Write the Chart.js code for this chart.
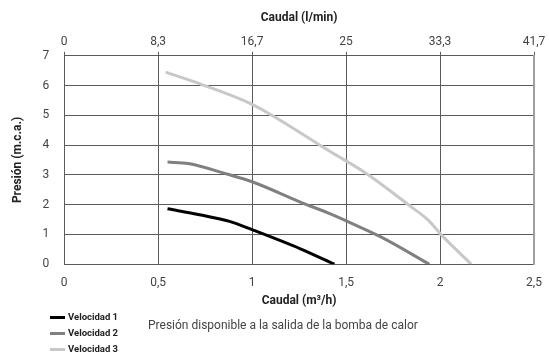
<!DOCTYPE html>
<html>
<head>
<meta charset="utf-8">
<script src="https://cdn.jsdelivr.net/npm/chart.js@4"></script>
<style>
  html, body { margin: 0; padding: 0; background: #fff; }
  #wrap { position: relative; width: 549px; height: 353px; font-family: Roboto, sans-serif; }
  #legend { position: absolute; left: 50px; top: 309px; }
  .leg-row { height: 16px; line-height: 16px; font-size: 9.5px; font-weight: bold; color: #222; white-space: nowrap; }
  .leg-line { display: inline-block; width: 15px; height: 3px; vertical-align: middle; margin-right: 3px; }
  #caption { position: absolute; left: 148px; top: 318px; font-size: 12px; color: #444; white-space: nowrap; }
</style>
</head>
<body>
<div id="wrap">
  <canvas id="curves" width="549" height="353"></canvas>
  <div id="legend"></div>
  <div id="caption">Presión disponible a la salida de la bomba de calor</div>
</div>
<script>
"use strict";

/* --- DATA --- */

const series_names = ['Velocidad 1', 'Velocidad 2', 'Velocidad 3'];
const series_colors = ['#000000', '#808080', '#c8c8c8'];

// caudal (m3/h) / presion (m.c.a.)
const vel1_q = [0.55, 0.72, 0.88, 1.0, 1.26, 1.438];
const vel1_p = [1.86, 1.66, 1.44, 1.16, 0.51, 0];

const vel2_q = [0.55, 0.66, 0.87, 1.0, 1.26, 1.42, 1.53, 1.69, 1.943];
const vel2_p = [3.43, 3.38, 3.02, 2.77, 2.08, 1.68, 1.37, 0.9, 0];

const vel3_q = [0.54, 0.73, 1.0, 1.14, 1.42, 1.6, 1.85, 1.93, 2.02, 2.166];
const vel3_p = [6.45, 6.04, 5.37, 4.87, 3.77, 3.08, 1.91, 1.52, 0.9, 0];

const x_ticks = [0, 0.5, 1, 1.5, 2, 2.5];
const x_tick_labels = ['0', '0,5', '1', '1,5', '2', '2,5'];
const lmin_ticks = [0, 8.333, 16.667, 25, 33.333, 41.667];
const lmin_tick_labels = ['0', '8,3', '16,7', '25', '33,3', '41,7'];
const y_ticks = [0, 1, 2, 3, 4, 5, 6, 7];

/* --- CHART --- */

function to_points(qs, ps) {
  return qs.map((q, i) => ({ x: q, y: ps[i] }));
}

// don't let the end labels push the plot area inwards
function no_side_pad(axis) {
  axis.paddingLeft = 0;
  axis.paddingRight = 0;
}

const all_q = [vel1_q, vel2_q, vel3_q];
const all_p = [vel1_p, vel2_p, vel3_p];

const grid_col = '#5a5a5a';
const tick_font = { family: 'Roboto', size: 12 };
const title_font = { family: 'Roboto', size: 12, weight: 'bold' };

const curves = document.getElementById('curves');

let curves_chart = new Chart(curves, {
  type: 'scatter',
  data: {
    datasets: series_names.map((name, i) => ({
      label: name,
      data: to_points(all_q[i], all_p[i]),
      showLine: true,
      borderColor: series_colors[i],
      backgroundColor: series_colors[i],
      borderWidth: 3,
      pointRadius: 0,
      tension: 0.3,
      cubicInterpolationMode: 'monotone',
      xAxisID: 'x'
    }))
  },
  options: {
    responsive: false,
    animation: false,
    layout: {
      padding: { left: 11, right: 15, top: 11, bottom: 45 }
    },
    plugins: {
      legend: { display: false },
      tooltip: { enabled: false }
    },
    scales: {
      x: {
        type: 'linear',
        position: 'bottom',
        min: 0,
        max: 2.5,
        afterBuildTicks: (axis) => { axis.ticks = x_ticks.map(v => ({ value: v })); },
        afterFit: no_side_pad,
        ticks: {
          color: '#444',
          font: tick_font,
          padding: 12,
          maxRotation: 0,
          callback: (v, i) => x_tick_labels[i]
        },
        grid: { color: grid_col, lineWidth: 1, drawTicks: false },
        border: { color: grid_col, width: 1 },
        title: {
          display: true,
          text: 'Caudal (m³/h)',
          color: '#222',
          font: title_font,
          padding: { top: -9, bottom: 0 }
        }
      },
      x2: {
        type: 'linear',
        position: 'top',
        min: 0,
        max: 41.667,
        afterBuildTicks: (axis) => { axis.ticks = lmin_ticks.map(v => ({ value: v })); },
        afterFit: no_side_pad,
        ticks: {
          color: '#444',
          font: tick_font,
          padding: 3,
          maxRotation: 0,
          callback: (v, i) => lmin_tick_labels[i]
        },
        grid: { drawOnChartArea: false, color: grid_col, tickLength: 4 },
        border: { color: grid_col, width: 1 },
        title: {
          display: true,
          text: 'Caudal (l/min)',
          color: '#222',
          font: title_font,
          padding: { top: 0, bottom: 6 }
        }
      },
      y: {
        type: 'linear',
        position: 'left',
        min: 0,
        max: 7,
        afterBuildTicks: (axis) => { axis.ticks = y_ticks.map(v => ({ value: v })); },
        ticks: {
          color: '#444',
          font: tick_font,
          padding: 15
        },
        grid: { color: grid_col, lineWidth: 1, drawTicks: false },
        border: { color: grid_col, width: 1 },
        title: {
          display: true,
          text: 'Presión (m.c.a.)',
          color: '#222',
          font: title_font,
          padding: { top: 0, bottom: 2 }
        }
      },
      y2: {
        type: 'linear',
        position: 'right',
        min: 0,
        max: 7,
        afterFit: (axis) => { axis.width = 0; },
        ticks: { display: false },
        grid: { display: false },
        border: { color: '#a0a0a0', width: 2 }
      }
    }
  }
});

/* --- LEGEND --- */

const legend_box = document.getElementById('legend');
curves_chart.data.datasets.forEach(ds => {
  const row = document.createElement('div');
  row.className = 'leg-row';
  const line = document.createElement('span');
  line.className = 'leg-line';
  line.style.background = ds.borderColor;
  row.appendChild(line);
  row.appendChild(document.createTextNode(ds.label));
  legend_box.appendChild(row);
});
</script>
</body>
</html>
